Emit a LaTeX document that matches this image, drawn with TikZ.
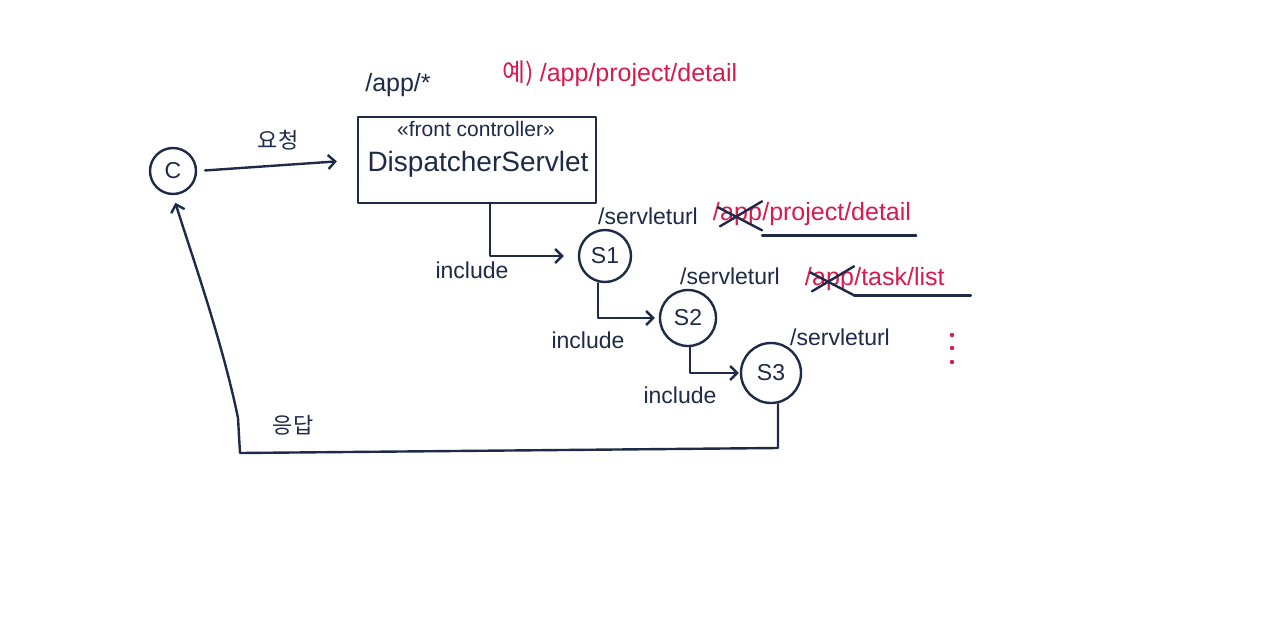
\documentclass[tikz,border=0pt]{standalone}
\usepackage{fontspec}
\setmainfont{Liberation Sans}
\newfontfamily\kor{Noto Sans CJK KR}
\usetikzlibrary{positioning,arrows.meta}
\definecolor{inkblue}{HTML}{1E2A48}
\definecolor{inkred}{HTML}{D81B4E}
\begin{document}
\begin{tikzpicture}[x=1pt,y=-1pt]
  % Define ink, circle and label styles
  \tikzstyle{ink} = [draw=inkblue, line width=2.4pt, line cap=round, line join=round]
  \tikzstyle{flow} = [ink, -{Straight Barb[length=7pt,width=14pt,line width=2.4pt]}]
  \tikzstyle{servlet} = [ink, circle, inner sep=0pt, text=inkblue, font=\fontsize{23}{25}\selectfont]
  \tikzstyle{lbl} = [text=inkblue, inner sep=0pt, font=\fontsize{23}{25}\selectfont]
  \tikzstyle{redlbl} = [text=inkred, inner sep=0pt, font=\fontsize{25}{27}\selectfont]

  \fill[white] (0,0) rectangle (1280,635);
  \useasboundingbox (0,0) rectangle (1280,635);

  % client and front controller
  \node[servlet, minimum size=46pt] (c) at (173,171) {C};
  \node[ink, rectangle, minimum width=238pt, minimum height=86pt] (disp) at (477,160) {};
  \node[lbl, font=\fontsize{21}{23}\selectfont] (stereo) at (476,129) {«front controller»};
  \node[lbl, font=\fontsize{28}{30}\selectfont] (dname) at (478,164) {DispatcherServlet};
  \node[lbl, font=\fontsize{25}{27}\selectfont] (mapping) at (398,85) {/app/*};
  \node[redlbl] (ex) at (620,74) {\kor 예)\ \rmfamily /app/project/detail};

  % request
  \draw[flow, shorten <=8pt, shorten >=20pt] (c.east) -- (disp.west);
  \node[lbl, font=\kor\fontsize{22}{24}\selectfont] (req) at (278,140) {요청};

  % servlets
  \node[servlet, minimum size=52pt] (s1) at (605,256) {S1};
  \node[servlet, minimum size=56pt] (s2) at (688,318) {S2};
  \node[servlet, minimum size=60pt] (s3) at (771,373) {S3};

  \draw[flow, shorten >=14pt] ([xshift=13pt]disp.south) |- (s1.west);
  \draw[flow, shorten >=4pt] ([xshift=-7pt]s1.south) |- (s2.west);
  \draw[flow, shorten >=1pt] ([xshift=2pt]s2.south) |- (s3.west);
  \node[lbl] (inc1) at (472,270) {include};
  \node[lbl] (inc2) at (588,340) {include};
  \node[lbl] (inc3) at (680,395) {include};

  % servlet urls
  \node[lbl] (url1) at (648,216) {/servleturl};
  \node[redlbl, anchor=east] (p1a) at (720,212) {/};
  \node[redlbl, anchor=base west] (p1b) at (p1a.base east) {app};
  \node[redlbl, anchor=base west] (p1c) at (p1b.base east) {/project/detail};
  \draw[ink] ([yshift=6pt]p1b.north east) -- (p1b.south west);
  \draw[ink] ([xshift=-2pt]p1b.north west) -- ([yshift=-4pt]p1b.south east);
  \draw[ink] ([yshift=-9pt]p1c.south west) -- ([yshift=-9pt,xshift=5pt]p1c.south east);

  \node[lbl] (url2) at (730,276) {/servleturl};
  \node[redlbl, anchor=east] (p2a) at (812,277) {/};
  \node[redlbl, anchor=base west] (p2b) at (p2a.base east) {app};
  \node[redlbl, anchor=base west] (p2c) at (p2b.base east) {/task/list};
  \draw[ink] ([yshift=6pt]p2b.north east) -- (p2b.south west);
  \draw[ink] ([xshift=-2pt]p2b.north west) -- ([yshift=-4pt]p2b.south east);
  \draw[ink] ([yshift=-9pt]p2c.south west) -- ([yshift=-9pt,xshift=26pt]p2c.south east);

  \node[lbl] (url3) at (840,337) {/servleturl};
  \foreach \yy in {335,348,362}
    \fill[inkred] (952,\yy) circle (2.2pt);

  % response
  \coordinate (br) at (778,448);
  \coordinate (bl) at (240,453);
  \draw[flow, shorten >=8pt] ([xshift=7pt]s3.south) -- (br) -- (bl) -- ++(-2,-35)
    .. controls (222,340) and (190,250) .. (c.south);
  \node[lbl, font=\kor\fontsize{22}{24}\selectfont] (resp) at (293,425) {응답};
\end{tikzpicture}
\end{document}
